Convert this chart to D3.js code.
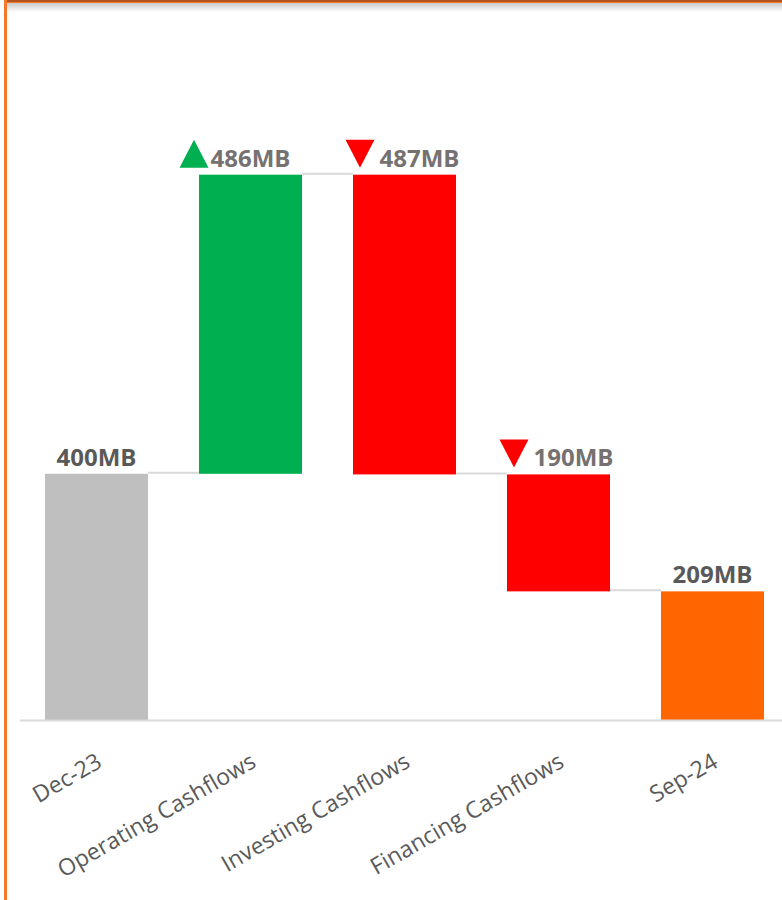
<!DOCTYPE html>
<html>
<head>
<meta charset="utf-8">
<script src="https://cdn.jsdelivr.net/npm/d3@7/dist/d3.min.js"></script>
<style>
  html, body { margin: 0; padding: 0; background: #ffffff; }
  svg { display: block; }
</style>
</head>
<body>
<div id="chart"></div>
<script>
// Cash bridge: opening balance, three cashflow movements, closing balance (MB)
const categories = ["Dec-23", "Operating Cashflows", "Investing Cashflows", "Financing Cashflows", "Sep-24"];
const kinds = ["total", "change", "change", "change", "total"];
const openingBalance = 400;
const movements = [486, -487, -190];
const closingBalance = 209;

const width = 782, height = 900;
const baseY = 720;

const svg = d3.select("#chart").append("svg")
  .attr("width", width).attr("height", height);

// Frame: shadowed top edge and orange left rule
const defs = svg.append("defs");
const shadow = defs.append("linearGradient").attr("id", "topShadow")
  .attr("x1", 0).attr("y1", 0).attr("x2", 0).attr("y2", 1);
shadow.append("stop").attr("offset", "0%").attr("stop-color", "#c8c8c8");
shadow.append("stop").attr("offset", "100%").attr("stop-color", "#ffffff");
svg.append("rect").attr("x", 4).attr("y", 3).attr("width", width - 4).attr("height", 9)
  .attr("fill", "url(#topShadow)");
svg.append("rect").attr("x", 4).attr("y", 0).attr("width", width - 4).attr("height", 2)
  .attr("fill", "#b4541c");
svg.append("rect").attr("x", 4).attr("y", 2).attr("width", width - 4).attr("height", 1)
  .attr("fill", "#f07a30");
svg.append("rect").attr("x", 4).attr("y", 0).attr("width", 3).attr("height", height)
  .attr("fill", "#f47a2a");

// Build waterfall segments
const rows = [];
let running = openingBalance;
rows.push({ cat: categories[0], kind: kinds[0], start: 0, end: openingBalance, value: openingBalance });
movements.forEach((m, i) => {
  rows.push({ cat: categories[i + 1], kind: kinds[i + 1], start: running, end: running + m, value: m });
  running += m;
});
rows.push({ cat: categories[4], kind: kinds[4], start: 0, end: closingBalance, value: closingBalance });

const x = d3.scaleBand()
  .domain(categories)
  .range([19.5, 789.5])
  .paddingInner(0.331)
  .paddingOuter(0.1655);

const y = d3.scaleLinear().domain([0, 1000]).range([baseY, 104.5]);

function barColor(d, i) {
  if (d.kind === "total") return i === 0 ? "#bfbfbf" : "#ff6600";
  return d.value >= 0 ? "#00b050" : "#ff0000";
}

// Connector lines between consecutive bars
const g = svg.append("g");
for (let i = 0; i < rows.length - 1; i++) {
  const level = rows[i].end;
  g.append("line")
    .attr("x1", x(rows[i].cat) + x.bandwidth())
    .attr("x2", x(rows[i + 1].cat))
    .attr("y1", y(level) - 1).attr("y2", y(level) - 1)
    .attr("stroke", "#d9d9d9").attr("stroke-width", 2);
}

// Bars
g.selectAll("rect.bar").data(rows).join("rect")
  .attr("class", "bar")
  .attr("x", d => x(d.cat))
  .attr("width", x.bandwidth())
  .attr("y", d => y(Math.max(d.start, d.end)))
  .attr("height", d => Math.abs(y(d.start) - y(d.end)))
  .attr("fill", barColor);

// Category axis
const axis = svg.append("g").attr("transform", `translate(0,${baseY})`)
  .call(d3.axisBottom(x).tickSize(0).tickPadding(0));
axis.select(".domain").remove();
axis.append("line").attr("x1", 20).attr("x2", width).attr("y1", 0.5).attr("y2", 0.5)
  .attr("stroke", "#d9d9d9").attr("stroke-width", 2);
axis.selectAll(".tick text")
  .attr("font-family", "'Open Sans', sans-serif")
  .attr("font-size", 23)
  .attr("letter-spacing", 0.1)
  .attr("fill", "#595959")
  .attr("text-anchor", "end")
  .attr("dy", 0)
  .attr("transform", "translate(7,46) rotate(-30)");

// Value labels
const labelFont = "'Open Sans', sans-serif";
rows.forEach((d, i) => {
  const cx = x(d.cat) + x.bandwidth() / 2;
  const top = y(Math.max(d.start, d.end));
  const by = top - 8;
  const txt = Math.abs(d.value) + "MB";
  if (d.kind === "total") {
    g.append("text").attr("x", cx).attr("y", by)
      .attr("text-anchor", "middle")
      .attr("font-family", labelFont).attr("font-weight", 700).attr("font-size", 24)
      .attr("fill", "#595959").text(txt);
  } else {
    const up = d.value >= 0;
    const tx = up ? cx - 40 : cx - 25;
    g.append("text").attr("x", tx).attr("y", by)
      .attr("text-anchor", "start")
      .attr("font-family", labelFont).attr("font-weight", 700).attr("font-size", 24)
      .attr("fill", "#767171").text(txt);
    const tw = 29, th = 28;
    const right = up ? tx - 2 : tx - 5;
    const pts = up
      ? [[right - tw, by + 1], [right, by + 1], [right - tw / 2, by + 1 - th]]
      : [[right - tw, by - th + 1], [right, by - th + 1], [right - tw / 2, by + 1]];
    g.append("path")
      .attr("d", d3.line()(pts) + "Z")
      .attr("fill", up ? "#00b050" : "#ff0000");
  }
});
</script>
</body>
</html>
